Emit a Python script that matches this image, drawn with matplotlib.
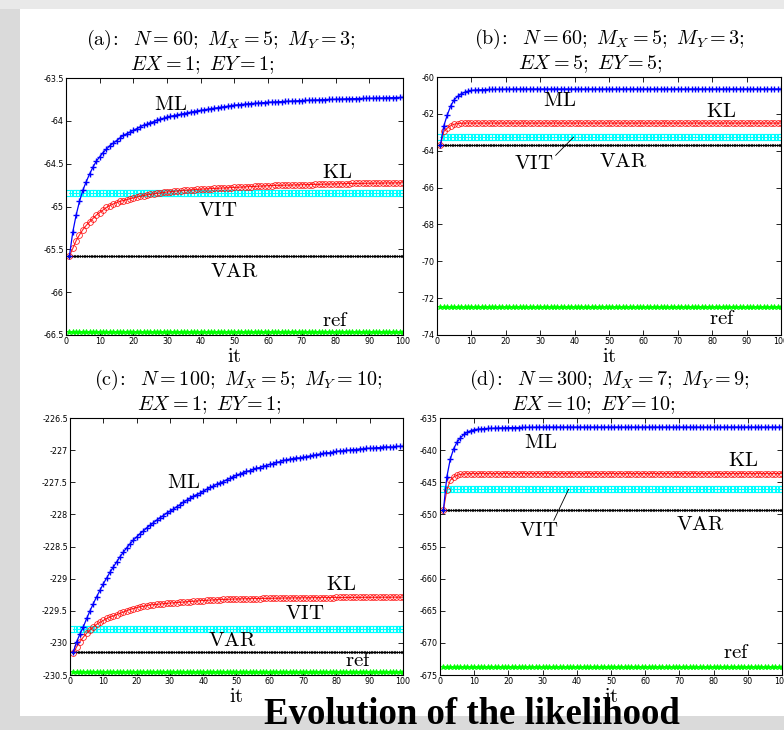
import matplotlib.pyplot as plt
import numpy as np
from matplotlib.patches import Rectangle

plt.rcParams['mathtext.fontset'] = 'cm'
plt.rcParams['axes.unicode_minus'] = False

# iterations
it = np.arange(1, 101)

# ---- panel (a): N=60, MX=5, MY=3, EX=1, EY=1
ml_a = [-65.58, -65.30, -65.10, -64.94, -64.81, -64.71, -64.62, -64.54, -64.47, -64.42,
        -64.37, -64.33, -64.29, -64.26, -64.23, -64.20, -64.17, -64.15, -64.13, -64.11,
        -64.09, -64.07, -64.05, -64.04, -64.02, -64.01, -63.99, -63.98, -63.97, -63.955,
        -63.947, -63.939, -63.931, -63.923, -63.915, -63.907, -63.899, -63.891, -63.884, -63.877,
        -63.871, -63.865, -63.859, -63.853, -63.847, -63.841, -63.835, -63.829, -63.823, -63.817,
        -63.813, -63.809, -63.805, -63.801, -63.798, -63.795, -63.792, -63.789, -63.786, -63.783,
        -63.781, -63.779, -63.777, -63.775, -63.773, -63.771, -63.769, -63.767, -63.765, -63.763,
        -63.761, -63.759, -63.758, -63.756, -63.755, -63.753, -63.752, -63.750, -63.749, -63.747,
        -63.746, -63.745, -63.743, -63.742, -63.741, -63.740, -63.739, -63.738, -63.737, -63.736,
        -63.735, -63.734, -63.733, -63.732, -63.731, -63.730, -63.729, -63.728, -63.727, -63.726]
kl_a = [-65.58, -65.49, -65.40, -65.33, -65.27, -65.22, -65.18, -65.14, -65.10, -65.07,
        -65.04, -65.01, -64.99, -64.97, -64.955, -64.94, -64.93, -64.92, -64.91, -64.90,
        -64.89, -64.88, -64.872, -64.865, -64.858, -64.852, -64.846, -64.841, -64.836, -64.831,
        -64.827, -64.823, -64.819, -64.815, -64.812, -64.809, -64.806, -64.803, -64.800, -64.797,
        -64.795, -64.793, -64.791, -64.789, -64.787, -64.785, -64.783, -64.781, -64.779, -64.777,
        -64.775, -64.773, -64.771, -64.769, -64.767, -64.765, -64.763, -64.761, -64.759, -64.757,
        -64.755, -64.754, -64.753, -64.752, -64.751, -64.750, -64.749, -64.748, -64.747, -64.746,
        -64.745, -64.744, -64.743, -64.742, -64.741, -64.740, -64.739, -64.738, -64.737, -64.736,
        -64.735, -64.734, -64.733, -64.732, -64.731, -64.730, -64.730, -64.729, -64.729, -64.728,
        -64.728, -64.727, -64.727, -64.726, -64.726, -64.725, -64.725, -64.724, -64.724, -64.723]
vit_a, var_a, ref_a = -64.84, -65.58, -66.47

# ---- panel (b): N=60, MX=5, MY=3, EX=5, EY=5
ml_b = [-63.68, -62.64, -62.05, -61.56, -61.23, -61.05, -60.92, -60.83, -60.77, -60.73,
        -60.71, -60.70, -60.69, -60.68, -60.675, -60.67, -60.665, -60.66, -60.66, -60.655,
        -60.655, -60.655, -60.65, -60.65, -60.65, -60.65, -60.65, -60.65, -60.65, -60.65,
        -60.65, -60.65, -60.65, -60.65, -60.65, -60.65, -60.65, -60.65, -60.65, -60.65,
        -60.65, -60.65, -60.65, -60.65, -60.65, -60.65, -60.65, -60.65, -60.65, -60.65,
        -60.65, -60.65, -60.65, -60.65, -60.65, -60.65, -60.65, -60.65, -60.65, -60.65,
        -60.65, -60.65, -60.65, -60.65, -60.65, -60.65, -60.65, -60.65, -60.65, -60.65,
        -60.65, -60.65, -60.65, -60.65, -60.65, -60.65, -60.65, -60.65, -60.65, -60.65,
        -60.65, -60.65, -60.65, -60.65, -60.65, -60.65, -60.65, -60.65, -60.65, -60.65,
        -60.65, -60.65, -60.65, -60.65, -60.65, -60.65, -60.65, -60.65, -60.65, -60.65]
kl_b = [-63.71, -62.95, -62.77, -62.64, -62.56, -62.53, -62.51, -62.50, -62.50, -62.50,
        -62.50, -62.50, -62.50, -62.50, -62.50, -62.50, -62.50, -62.50, -62.50, -62.50,
        -62.50, -62.50, -62.50, -62.50, -62.50, -62.50, -62.50, -62.50, -62.50, -62.50,
        -62.50, -62.50, -62.50, -62.50, -62.50, -62.50, -62.50, -62.50, -62.50, -62.50,
        -62.50, -62.50, -62.50, -62.50, -62.50, -62.50, -62.50, -62.50, -62.50, -62.50,
        -62.50, -62.50, -62.50, -62.50, -62.50, -62.50, -62.50, -62.50, -62.50, -62.50,
        -62.50, -62.50, -62.50, -62.50, -62.50, -62.50, -62.50, -62.50, -62.50, -62.50,
        -62.50, -62.50, -62.50, -62.50, -62.50, -62.50, -62.50, -62.50, -62.50, -62.50,
        -62.50, -62.50, -62.50, -62.50, -62.50, -62.50, -62.50, -62.50, -62.50, -62.50,
        -62.50, -62.50, -62.50, -62.50, -62.50, -62.50, -62.50, -62.50, -62.50, -62.50]
vit_b, var_b, ref_b = -63.26, -63.71, -72.50

# ---- panel (c): N=100, MX=5, MY=10, EX=1, EY=1
ml_c = [-230.14, -229.98, -229.86, -229.75, -229.62, -229.50, -229.39, -229.28, -229.18, -229.08,
        -228.99, -228.90, -228.82, -228.74, -228.66, -228.59, -228.52, -228.46, -228.40, -228.35,
        -228.30, -228.26, -228.21, -228.17, -228.13, -228.09, -228.05, -228.02, -227.98, -227.95,
        -227.92, -227.88, -227.85, -227.81, -227.78, -227.75, -227.72, -227.69, -227.67, -227.64,
        -227.61, -227.58, -227.56, -227.53, -227.51, -227.49, -227.46, -227.44, -227.41, -227.39,
        -227.37, -227.35, -227.33, -227.32, -227.30, -227.28, -227.27, -227.25, -227.24, -227.22,
        -227.21, -227.19, -227.18, -227.16, -227.15, -227.14, -227.13, -227.12, -227.12, -227.11,
        -227.10, -227.09, -227.08, -227.07, -227.06, -227.05, -227.04, -227.04, -227.03, -227.02,
        -227.01, -227.01, -227.00, -227.00, -226.99, -226.99, -226.98, -226.98, -226.97, -226.97,
        -226.97, -226.96, -226.96, -226.95, -226.95, -226.95, -226.95, -226.94, -226.94, -226.94]
kl_c = [-230.16, -230.06, -229.98, -229.91, -229.85, -229.80, -229.75, -229.71, -229.68, -229.65,
        -229.62, -229.60, -229.58, -229.56, -229.54, -229.52, -229.50, -229.48, -229.465, -229.45,
        -229.44, -229.43, -229.42, -229.41, -229.405, -229.40, -229.395, -229.39, -229.385, -229.38,
        -229.376, -229.372, -229.368, -229.364, -229.36, -229.356, -229.352, -229.348, -229.344, -229.34,
        -229.337, -229.334, -229.331, -229.328, -229.326, -229.324, -229.322, -229.32, -229.318, -229.316,
        -229.315, -229.314, -229.313, -229.312, -229.311, -229.310, -229.309, -229.308, -229.307, -229.306,
        -229.305, -229.304, -229.303, -229.302, -229.301, -229.300, -229.300, -229.299, -229.299, -229.298,
        -229.298, -229.297, -229.297, -229.296, -229.296, -229.295, -229.295, -229.294, -229.294, -229.293,
        -229.293, -229.293, -229.292, -229.292, -229.292, -229.291, -229.291, -229.291, -229.290, -229.290,
        -229.290, -229.290, -229.289, -229.289, -229.289, -229.289, -229.288, -229.288, -229.288, -229.288]
vit_c, var_c, ref_c = -229.78, -230.14, -230.45

# ---- panel (d): N=300, MX=7, MY=9, EX=10, EY=10
ml_d = [-649.35, -644.17, -641.42, -639.77, -638.73, -638.06, -637.54, -637.18, -636.97, -636.81,
        -636.74, -636.69, -636.65, -636.62, -636.60, -636.57, -636.55, -636.53, -636.51, -636.50,
        -636.49, -636.48, -636.47, -636.46, -636.45, -636.44, -636.43, -636.42, -636.41, -636.40,
        -636.40, -636.40, -636.40, -636.40, -636.40, -636.40, -636.40, -636.40, -636.40, -636.40,
        -636.40, -636.40, -636.40, -636.40, -636.40, -636.40, -636.40, -636.40, -636.40, -636.40,
        -636.40, -636.40, -636.40, -636.40, -636.40, -636.40, -636.40, -636.40, -636.40, -636.40,
        -636.40, -636.40, -636.40, -636.40, -636.40, -636.40, -636.40, -636.40, -636.40, -636.40,
        -636.40, -636.40, -636.40, -636.40, -636.40, -636.40, -636.40, -636.40, -636.40, -636.40,
        -636.40, -636.40, -636.40, -636.40, -636.40, -636.40, -636.40, -636.40, -636.40, -636.40,
        -636.40, -636.40, -636.40, -636.40, -636.40, -636.40, -636.40, -636.40, -636.40, -636.40]
kl_d = [-649.35, -646.24, -644.69, -644.17, -643.90, -643.76, -643.70, -643.66, -643.65, -643.65,
        -643.65, -643.65, -643.65, -643.65, -643.65, -643.65, -643.65, -643.65, -643.65, -643.65,
        -643.65, -643.65, -643.65, -643.65, -643.65, -643.65, -643.65, -643.65, -643.65, -643.65,
        -643.65, -643.65, -643.65, -643.65, -643.65, -643.65, -643.65, -643.65, -643.65, -643.65,
        -643.65, -643.65, -643.65, -643.65, -643.65, -643.65, -643.65, -643.65, -643.65, -643.65,
        -643.65, -643.65, -643.65, -643.65, -643.65, -643.65, -643.65, -643.65, -643.65, -643.65,
        -643.65, -643.65, -643.65, -643.65, -643.65, -643.65, -643.65, -643.65, -643.65, -643.65,
        -643.65, -643.65, -643.65, -643.65, -643.65, -643.65, -643.65, -643.65, -643.65, -643.65,
        -643.65, -643.65, -643.65, -643.65, -643.65, -643.65, -643.65, -643.65, -643.65, -643.65,
        -643.65, -643.65, -643.65, -643.65, -643.65, -643.65, -643.65, -643.65, -643.65, -643.65]
vit_d, var_d, ref_d = -645.98, -649.35, -673.70

titles_1 = [r"$\mathrm{(a)\!:}\ \ N=60;\ M_X=5;\ M_Y=3;$",
            r"$\mathrm{(b)\!:}\ \ N=60;\ M_X=5;\ M_Y=3;$",
            r"$\mathrm{(c)\!:}\ \ N=100;\ M_X=5;\ M_Y=10;$",
            r"$\mathrm{(d)\!:}\ \ N=300;\ M_X=7;\ M_Y=9;$"]
titles_2 = [r"$EX=1;\ EY=1;$", r"$EX=5;\ EY=5;$", r"$EX=1;\ EY=1;$", r"$EX=10;\ EY=10;$"]
ylims = [(-66.5, -63.5), (-74, -60), (-230.5, -226.5), (-675, -635)]
ysteps = [0.5, 2, 0.5, 5]

fig = plt.figure(figsize=(7.84, 7.30), dpi=100, facecolor='#dadada')
fig.patches.append(Rectangle((0.0, 0.988), 1.0, 0.012, transform=fig.transFigure,
                             facecolor='#e9e9e9', edgecolor='none', zorder=-6))
fig.patches.append(Rectangle((0.0255, 0.019), 0.99, 0.969, transform=fig.transFigure,
                             facecolor='white', edgecolor='none', zorder=-5))

# axes boxes [left, bottom, width, height] in figure fraction
boxes = [[0.0842, 0.5411, 0.4298, 0.352],
         [0.5574, 0.5411, 0.4388, 0.3534],
         [0.0893, 0.0753, 0.4247, 0.352],
         [0.5612, 0.0753, 0.4362, 0.352]]
t1x = [0.46, 0.50, 0.505, 0.494]
t2x = [0.404, 0.445, 0.417, 0.45]

series = [(ml_a, kl_a, vit_a, var_a, ref_a),
          (ml_b, kl_b, vit_b, var_b, ref_b),
          (ml_c, kl_c, vit_c, var_c, ref_c),
          (ml_d, kl_d, vit_d, var_d, ref_d)]

# label positions (x, y) in data coordinates per panel
lab = [
    {'ML': (31, -63.80), 'KL': (80.5, -64.60), 'VIT': (45, -65.04), 'VAR': (50, -65.75), 'ref': (80, -66.33)},
    {'ML': (35.5, -61.23), 'KL': (82.5, -61.87), 'VIT': (28, -64.67), 'VAR': (54, -64.58), 'ref': (83, -73.10)},
    {'ML': (34, -227.50), 'KL': (81.5, -229.09), 'VIT': (70.5, -229.53), 'VAR': (48.7, -229.95), 'ref': (86.5, -230.27)},
    {'ML': (29.3, -638.73), 'KL': (88.8, -641.48), 'VIT': (28.8, -652.46), 'VAR': (76, -651.5), 'ref': (86.8, -671.4)},
]
# short leader lines from VIT label to its curve
leaders = {1: ((34.5, -64.25), (39.7, -63.26)), 3: ((33.3, -650.9), (37.6, -646.1))}

for i in range(4):
    ax = fig.add_axes(boxes[i])
    ml, kl, vit, var, ref = series[i]
    ax.plot(it, np.full(it.shape, ref), color='#00ff00', marker='*', ms=4, lw=0.8, mew=0.6)
    ax.plot(it, np.full(it.shape, var), color='black', marker='x', ms=2, lw=0.8, mew=0.5)
    ax.plot(it, np.full(it.shape, vit), color='#00ffff', marker='s', ms=4, mfc='none', lw=0.8, mew=0.8)
    ax.plot(it, kl, color='#ff0000', marker='o', ms=4.2, mfc='none', lw=0.8, mew=0.6, alpha=0.85)
    ax.plot(it, ml, color='#0000ff', marker='+', ms=5, lw=0.9, mew=1.0)

    ax.set_xlim(0, 100)
    ax.set_ylim(*ylims[i])
    ax.set_xticks(np.arange(0, 101, 10))
    y0, y1 = ylims[i]
    ax.set_yticks(np.arange(y0, y1 + 1e-9, ysteps[i]))
    ax.yaxis.set_major_formatter(plt.FuncFormatter(lambda v, p: ('%g' % v)))
    ax.tick_params(direction='in', top=True, right=True, length=3.5, width=0.6,
                   labelsize=5.8, pad=1.5)
    for s in ax.spines.values():
        s.set_linewidth(0.8)

    ax.text(t1x[i], 1.128, titles_1[i], transform=ax.transAxes, ha='center', va='baseline', fontsize=14.5)
    ax.text(t2x[i], 1.032, titles_2[i], transform=ax.transAxes, ha='center', va='baseline', fontsize=14.5)
    ax.set_xlabel(r"$\mathrm{it}$", fontsize=15, labelpad=0)

    for name, (lx, ly) in lab[i].items():
        ax.text(lx, ly, r"$\mathrm{%s}$" % name, ha='center', va='center', fontsize=15)
    if i in leaders:
        (xa, ya), (xb, yb) = leaders[i]
        ax.plot([xa, xb], [ya, yb], color='black', lw=0.6)

fig.text(0.602, 0.008, "Evolution of the likelihood", ha='center', va='baseline',
         fontfamily='Liberation Serif', fontweight='bold', fontsize=26.5)

fig.savefig("out.png", dpi=100, facecolor=fig.get_facecolor())
